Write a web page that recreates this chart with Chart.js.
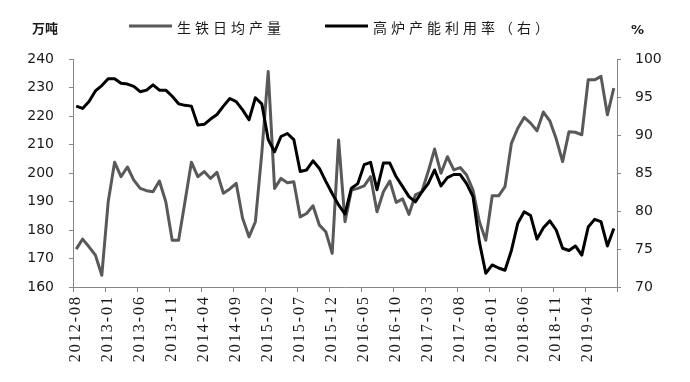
<!DOCTYPE html>
<html>
<head>
<meta charset="utf-8">
<script src="https://cdn.jsdelivr.net/npm/chart.js@4"></script>
<style>
  html, body { margin: 0; padding: 0; background: #fff; }
  #wrap { width: 690px; height: 382px; }
</style>
</head>
<body>
<div id="wrap"><canvas id="chart" width="690" height="382"></canvas></div>
<script>
// months on the x axis (one label every 5 months is shown)
const months = [
  '2012-08','2012-09','2012-10','2012-11','2012-12',
  '2013-01','2013-02','2013-03','2013-04','2013-05','2013-06','2013-07','2013-08','2013-09','2013-10','2013-11','2013-12',
  '2014-01','2014-02','2014-03','2014-04','2014-05','2014-06','2014-07','2014-08','2014-09','2014-10','2014-11','2014-12',
  '2015-01','2015-02','2015-03','2015-04','2015-05','2015-06','2015-07','2015-08','2015-09','2015-10','2015-11','2015-12',
  '2016-01','2016-02','2016-03','2016-04','2016-05','2016-06','2016-07','2016-08','2016-09','2016-10','2016-11','2016-12',
  '2017-01','2017-02','2017-03','2017-04','2017-05','2017-06','2017-07','2017-08','2017-09','2017-10','2017-11','2017-12',
  '2018-01','2018-02','2018-03','2018-04','2018-05','2018-06','2018-07','2018-08','2018-09','2018-10','2018-11','2018-12',
  '2019-01','2019-02','2019-03','2019-04','2019-05','2019-06','2019-07','2019-08'
];

// 生铁日均产量 (万吨, left axis)
const ironOutput = [
  173.3, 176.8, 174.1, 171.2, 164.1, 189.9, 203.8, 198.7, 202.1, 197.5,
  194.6, 193.8, 193.4, 197.2, 189.9, 176.4, 176.4, 190.0, 203.8, 198.7,
  200.5, 198.1, 200.2, 192.9, 194.4, 196.4, 184.1, 177.6, 182.9, 207.0,
  235.6, 194.6, 198.1, 196.6, 196.9, 184.6, 185.8, 188.5, 181.7, 179.4,
  171.8, 211.6, 182.9, 194.0, 194.6, 195.5, 198.7, 186.4, 193.4, 197.2,
  189.7, 190.9, 185.5, 192.3, 193.4, 200.5, 208.4, 199.9, 205.7, 201.1,
  201.9, 199.3, 194.0, 182.9, 176.4, 192.0, 192.0, 195.2, 210.4, 215.7,
  219.5, 217.5, 214.8, 221.4, 218.3, 212.0, 204.0, 214.5, 214.3, 213.4,
  232.7, 232.7, 233.9, 220.4, 229.8
];

// 高炉产能利用率 (%, right axis)
const furnaceRate = [
  93.8, 93.5, 94.4, 95.8, 96.5, 97.4, 97.4, 96.8, 96.7, 96.4,
  95.7, 95.9, 96.6, 95.9, 95.9, 95.1, 94.1, 93.9, 93.8, 91.3,
  91.4, 92.1, 92.7, 93.8, 94.8, 94.4, 93.3, 92.0, 94.9, 94.1,
  89.4, 87.8, 89.8, 90.2, 89.4, 85.2, 85.4, 86.6, 85.6, 83.9,
  82.3, 80.8, 79.6, 83.0, 83.6, 86.1, 86.4, 82.8, 86.3, 86.3,
  84.5, 83.2, 81.9, 81.2, 82.5, 83.6, 85.4, 83.3, 84.4, 84.8,
  84.8, 83.6, 81.9, 75.9, 71.8, 72.9, 72.5, 72.2, 74.8, 78.4,
  79.9, 79.4, 76.3, 77.8, 78.7, 77.5, 75.1, 74.8, 75.4, 74.2,
  77.9, 78.9, 78.6, 75.4, 77.7
];

const seriesNames = ['生铁日均产量', '高炉产能利用率（右）'];
const unitLeft = '万吨';
const unitRight = '%';

const AXIS = '#868686';
const TEXT = '#1a1a1a';

// legend + unit labels drawn by hand so they can sit where the original puts them
const framePlugin = {
  id: 'frame',
  beforeDraw(chart) {
    const xs = chart.scales.x;
    if (xs && !xs._spaced) {
      const orig = xs.drawLabels;
      xs.drawLabels = function (area) {
        const ctx = this.ctx;
        ctx.save();
        ctx.letterSpacing = '2px';
        orig.call(this, area);
        ctx.restore();
      };
      xs._spaced = true;
    }
  },
  afterDraw(chart) {
    const ctx = chart.ctx;
    ctx.save();
    ctx.fillStyle = TEXT;
    ctx.textBaseline = 'middle';
    ctx.font = 'bold 13px "Noto Sans CJK SC"';
    ctx.fillText(unitLeft, 32, 28);
    ctx.font = 'bold 13px "DejaVu Sans"';
    ctx.fillText(unitRight, 631, 31);

    const itemX = [129, 325];
    chart.data.datasets.forEach((ds, i) => {
      const x = itemX[i];
      ctx.strokeStyle = ds.borderColor;
      ctx.lineWidth = 3;
      ctx.beginPath();
      ctx.moveTo(x, 26);
      ctx.lineTo(x + 43, 26);
      ctx.stroke();
      ctx.font = '14px "Noto Sans CJK SC"';
      ctx.letterSpacing = '4px';
      ctx.fillStyle = TEXT;
      ctx.fillText(ds.label, x + 48, 28);
      ctx.letterSpacing = '0px';
    });
    ctx.restore();
  }
};

new Chart(document.getElementById('chart'), {
  type: 'line',
  data: {
    labels: months,
    datasets: [
      {
        label: seriesNames[0],
        data: ironOutput,
        yAxisID: 'y',
        borderColor: '#595959',
        borderWidth: 3,
        pointRadius: 0,
        tension: 0,
        borderJoinStyle: 'round',
        order: 1,
      },
      {
        label: seriesNames[1],
        data: furnaceRate,
        yAxisID: 'y1',
        borderColor: '#000000',
        borderWidth: 3,
        pointRadius: 0,
        tension: 0,
        borderJoinStyle: 'round',
        order: 0,
      }
    ]
  },
  options: {
    responsive: false,
    devicePixelRatio: 1,
    animation: false,
    layout: { padding: { top: 59, left: 0, right: 0, bottom: 0 } },
    plugins: {
      legend: { display: false },
      tooltip: { enabled: false },
    },
    scales: {
      x: {
        type: 'category',
        offset: true,
        grid: {
          offset: true,
          drawOnChartArea: false,
          tickLength: 5,
          color: c => (c.type !== 'tick' || c.index % 5 === 0) ? AXIS : 'rgba(0,0,0,0)',
        },
        border: { color: AXIS, width: 1 },
        ticks: {
          autoSkip: false,
          minRotation: 90,
          maxRotation: 90,
          padding: 3,
          color: TEXT,
          font: { family: '"Liberation Serif"', size: 16 },
          callback: (v, i) => (i % 5 === 0 ? months[i] : ''),
        },
        afterFit: s => { s.height = 95; },
      },
      y: {
        position: 'left',
        min: 160, max: 240,
        grid: { drawOnChartArea: false, tickLength: 4, color: AXIS },
        border: { color: AXIS, width: 1 },
        ticks: { stepSize: 10, padding: 15, color: TEXT, font: { family: '"DejaVu Sans"', size: 14 } },
        afterFit: s => { s.width = 73; },
      },
      y1: {
        position: 'right',
        min: 70, max: 100,
        grid: { drawOnChartArea: false, tickLength: 4, color: AXIS },
        border: { color: AXIS, width: 1 },
        ticks: { stepSize: 5, padding: 14, color: TEXT, font: { family: '"DejaVu Sans"', size: 14 } },
        afterFit: s => { s.width = 73; },
      },
    },
  },
  plugins: [framePlugin],
});
</script>
</body>
</html>
